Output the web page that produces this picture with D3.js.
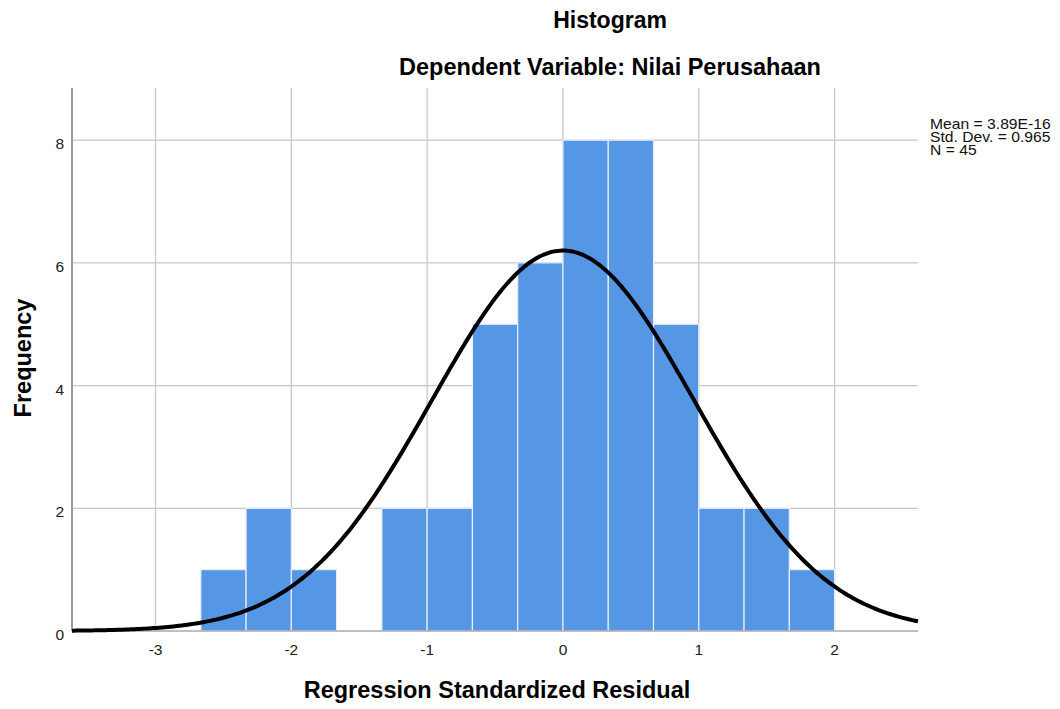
<!DOCTYPE html>
<html>
<head>
<meta charset="utf-8">
<script src="https://cdn.jsdelivr.net/npm/d3@7"></script>
<style>
  body { margin: 0; background: #fff; }
  svg { font-family: "Liberation Sans", Arial, sans-serif; }
</style>
</head>
<body>
<div id="chart"></div>
<script>
// bin edges (width 1/3) and counts
const binStarts = [-8/3, -7/3, -2, -5/3, -4/3, -1, -2/3, -1/3, 0, 1/3, 2/3, 1, 4/3, 5/3];
const binWidth = 1 / 3;
const counts = [1, 2, 1, 0, 2, 2, 5, 6, 8, 8, 5, 2, 2, 1];
const xTicks = [-3, -2, -1, 0, 1, 2];
const yTicks = [0, 2, 4, 6, 8];
const mean = 3.89e-16, sd = 0.965, n = 45;
const legendLines = ["Mean = 3.89E-16", "Std. Dev. = 0.965", "N = 45"];

const W = 1060, H = 709;
const m = { left: 72, right: 918, top: 88, bottom: 631 };

const svg = d3.select("#chart").append("svg")
  .attr("width", W).attr("height", H);

const x = d3.scaleLinear().domain([-3.615, 2.614]).range([m.left, m.right]);
const y = d3.scaleLinear().domain([0, 8.85]).range([m.bottom, m.top]);

// grid
const grid = svg.append("g").attr("stroke", "#c8c8c8").attr("stroke-width", 1.3);
grid.selectAll("line.v").data(xTicks).join("line")
  .attr("x1", d => x(d)).attr("x2", d => x(d))
  .attr("y1", m.top).attr("y2", m.bottom);
grid.selectAll("line.h").data(yTicks.filter(d => d > 0)).join("line")
  .attr("x1", m.left).attr("x2", m.right)
  .attr("y1", d => y(d)).attr("y2", d => y(d));

// bars
const bins = binStarts.map((s, i) => ({ x0: s, x1: s + binWidth, c: counts[i] }));
svg.append("g").selectAll("rect").data(bins.filter(d => d.c > 0)).join("rect")
  .attr("x", d => x(d.x0))
  .attr("width", d => x(d.x1) - x(d.x0))
  .attr("y", d => y(d.c))
  .attr("height", d => y(0) - y(d.c))
  .attr("fill", "#5596e5")
  .attr("stroke", "#e6eefa")
  .attr("stroke-width", 1.2);

// axes lines
svg.append("line")
  .attr("x1", m.left).attr("x2", m.left).attr("y1", m.top).attr("y2", m.bottom)
  .attr("stroke", "#999").attr("stroke-width", 2);
svg.append("line")
  .attr("x1", m.left).attr("x2", m.right).attr("y1", m.bottom).attr("y2", m.bottom)
  .attr("stroke", "#aaa").attr("stroke-width", 1.5);

// normal curve
const xs = d3.range(0, 301).map(i => x.domain()[0] + (x.domain()[1] - x.domain()[0]) * i / 300);
const pdf = v => n * binWidth / (sd * Math.sqrt(2 * Math.PI)) * Math.exp(-0.5 * ((v - mean) / sd) ** 2);
svg.append("path")
  .datum(xs)
  .attr("fill", "none")
  .attr("stroke", "#000")
  .attr("stroke-width", 4)
  .attr("d", d3.line().x(d => x(d)).y(d => y(pdf(d))).curve(d3.curveBasis));

// tick labels
svg.append("g").selectAll("text").data(xTicks).join("text")
  .attr("x", d => x(d)).attr("y", m.bottom + 24)
  .attr("text-anchor", "middle")
  .attr("font-size", 15.5).attr("fill", "#222")
  .text(d => d);
svg.append("g").selectAll("text").data(yTicks).join("text")
  .attr("x", m.left - 8).attr("y", d => y(d) + 9)
  .attr("text-anchor", "end")
  .attr("font-size", 15.5).attr("fill", "#222")
  .text(d => d);

// titles
svg.append("text").attr("x", 610).attr("y", 28)
  .attr("text-anchor", "middle").attr("font-size", 23).attr("font-weight", "bold")
  .text("Histogram");
svg.append("text").attr("x", 610).attr("y", 75)
  .attr("text-anchor", "middle").attr("font-size", 23.5).attr("font-weight", "bold")
  .text("Dependent Variable: Nilai Perusahaan");
svg.append("text").attr("x", 497).attr("y", 698)
  .attr("text-anchor", "middle").attr("font-size", 23.5).attr("font-weight", "bold")
  .text("Regression Standardized Residual");
svg.append("text")
  .attr("transform", `translate(31,${358}) rotate(-90)`)
  .attr("text-anchor", "middle").attr("font-size", 23.5).attr("font-weight", "bold")
  .text("Frequency");

// stats legend
svg.append("g").attr("transform", "translate(930,0) scale(1.12,1)")
  .selectAll("text").data(legendLines).join("text")
  .attr("x", 0).attr("y", (d, i) => 129 + i * 13)
  .attr("font-size", 14).attr("fill", "#111")
  .text(d => d);
</script>
</body>
</html>
